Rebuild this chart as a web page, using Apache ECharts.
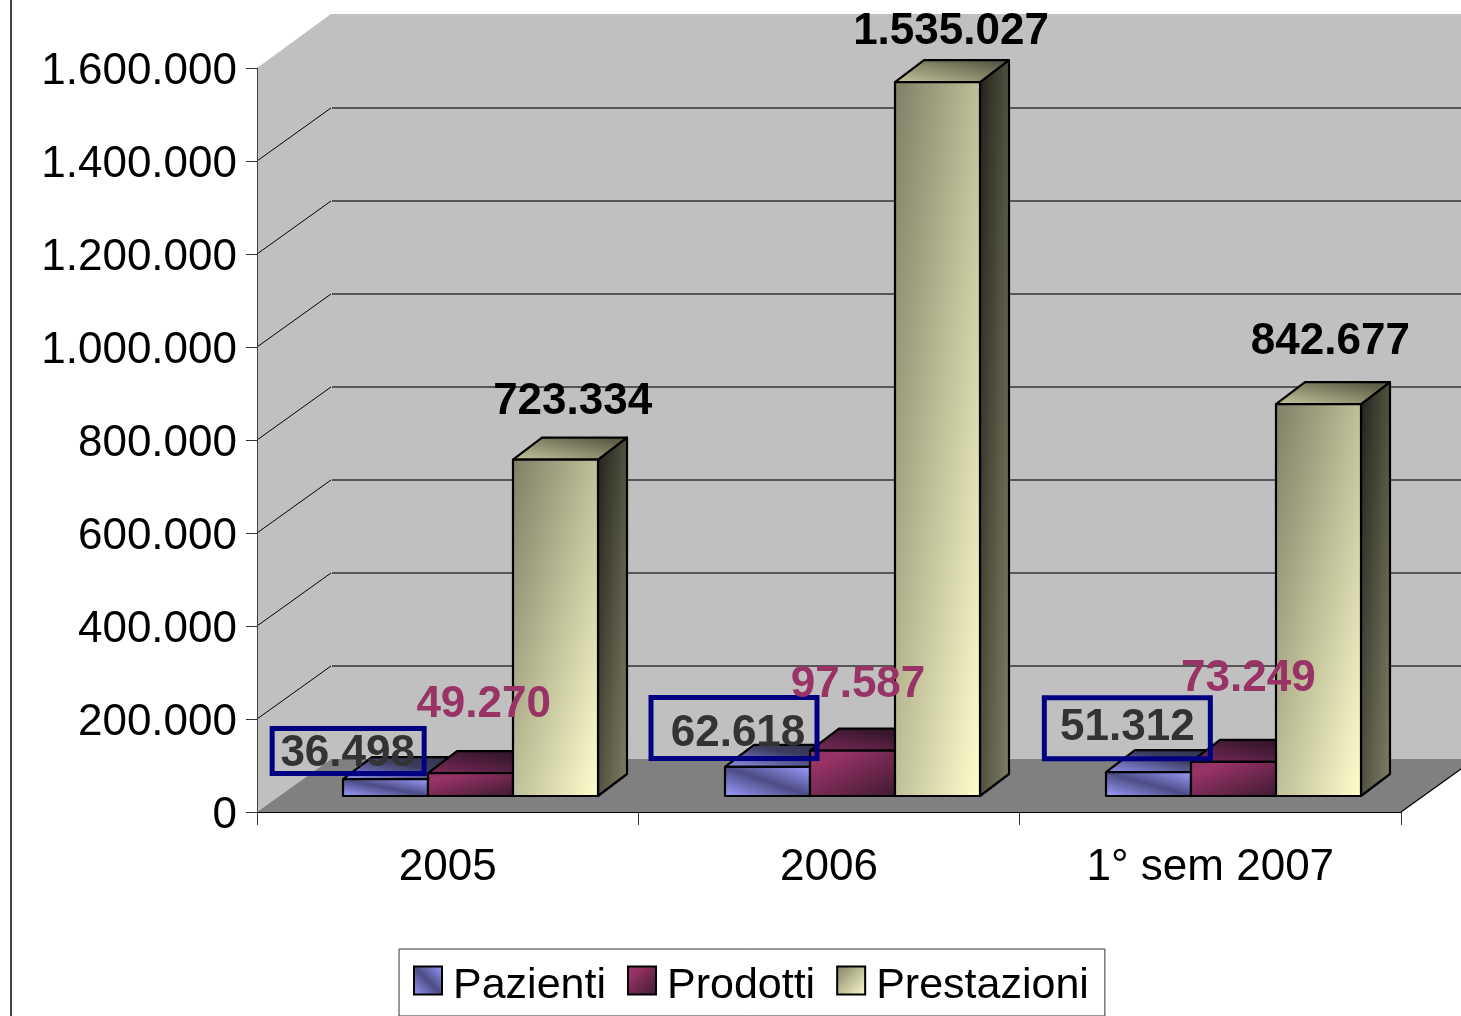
<!DOCTYPE html>
<html><head><meta charset="utf-8">
<style>html,body{margin:0;padding:0;background:#fff}#c{width:1461px;height:1016px}</style>
<script src="https://cdn.jsdelivr.net/npm/echarts@6/dist/echarts.min.js"></script>
</head><body><div id="c"></div>
<script>
var categories = ['2005', '2006', '1° sem 2007'];
var pazienti = [36498, 62618, 51312];
var prodotti = [49270, 97587, 73249];
var prestazioni = [723334, 1535027, 842677];
var yTicks = [0, 200000, 400000, 600000, 800000, 1000000, 1200000, 1400000, 1600000];

// Pseudo-3D layout (pixels)
var FONT = '"Liberation Sans", Arial, sans-serif';
var WALL_DX = 74, WALL_DY = -53, FRONT_DX = 23, FRONT_DY = -16, DEPTH_DX = 29, DEPTH_DY = -22, BAR_W = 85;

// Label offsets from each bar's front-top-centre
var blueLabelOff = [[-38, -25], [-29, -33], [-21, -44]];
var redLabelOff = [[13, -68], [6, -66], [15, -83]];
var yellowLabelOff = [[17, -58], [14, -50], [12, -62]];
var blueBoxes = [[-113.5, -50.5, 152, 45], [-116, -69.5, 166, 61], [-104, -74.5, 166, 61]];

var PALETTE = {
  blue: {
    front: [[0, '#9c9cff'], [0.5, '#4c4c85'], [1, '#9c9cff']], frontDir: 'up',
    top: [[0, '#9090f0'], [0.6, '#3c3c60'], [1, '#30304c']],
    side: [[0, '#30304c'], [1, '#70709f']]
  },
  red: {
    front: [[0, '#8f3060'], [0.2, '#993366'], [1, '#3f1a33']], frontDir: 'down',
    top: [[0, '#7c2a58'], [0.7, '#3a1830'], [1, '#2f1428']],
    side: [[0, '#2f1428'], [1, '#662244']]
  },
  yellow: {
    front: [[0, '#7f7f66'], [1, '#ffffcc']], frontDir: 'down',
    top: [[0, '#c4c49c'], [1, '#4e4e3c']],
    side: [[0, '#22221a'], [1, '#808066']]
  }
};

function stops(a) { return a.map(function (s) { return { offset: s[0], color: s[1] }; }); }
// Object-space diagonal gradient: iso-lines run along the rectangle's other diagonal
function diag(x, y, w, h, list, dir) {
  var k = 2 * w * h / (w * w + h * h);
  if (dir === 'up') {
    return { type: 'linear', global: true, x: x, y: y + h, x2: x + h * k, y2: y + h - w * k, colorStops: stops(list) };
  }
  return { type: 'linear', global: true, x: x, y: y, x2: x + h * k, y2: y + w * k, colorStops: stops(list) };
}

function barItem(slot, pal) {
  return function (params, api) {
    var p = api.coord([api.value(0), api.value(1)]);
    var z = api.coord([api.value(0), 0]);
    var l = Math.round(p[0] + FRONT_DX + (slot - 1.5) * BAR_W);
    var r = l + BAR_W, t = p[1] + FRONT_DY, b = z[1] + FRONT_DY;
    var dx = DEPTH_DX, dy = DEPTH_DY;
    var st = { stroke: '#000', lineWidth: 2.2, lineJoin: 'round' };
    function poly(points, fill) {
      return { type: 'polygon', shape: { points: points }, style: Object.assign({ fill: fill }, st) };
    }
    return {
      type: 'group',
      children: [
        poly([[r, t], [r + dx, t + dy], [r + dx, b + dy], [r, b]], diag(r, t + dy, dx, b - t - dy, pal.side)),
        poly([[l, t], [l + dx, t + dy], [r + dx, t + dy], [r, t]], diag(l, t + dy, BAR_W + dx, -dy, pal.top, 'up')),
        poly([[l, t], [r, t], [r, b], [l, b]], diag(l, t, BAR_W, b - t, pal.front, pal.frontDir))
      ]
    };
  };
}

function labelItem(slot, offs, color, boxes) {
  return function (params, api) {
    var i = params.dataIndex;
    var p = api.coord([api.value(0), api.value(1)]);
    var cx = p[0] + FRONT_DX + (slot - 1) * BAR_W;
    var cy = p[1] + FRONT_DY;
    var v = String(api.value(1)).replace(/\B(?=(\d{3})+(?!\d))/g, '.');
    var kids = [{
      type: 'text', z2: 2,
      style: { text: v, x: cx + offs[i][0], y: cy + offs[i][1], fill: color, font: 'bold 44px ' + FONT, align: 'center', verticalAlign: 'middle' }
    }];
    if (boxes) {
      var bx = boxes[i];
      kids.unshift({
        type: 'rect', z2: 1,
        shape: { x: cx + bx[0], y: cy + bx[1], width: bx[2], height: bx[3] },
        style: { fill: 'transparent', stroke: '#000080', lineWidth: 5 }
      });
    }
    return { type: 'group', children: kids };
  };
}

function wallItem(params, api) {
  var v = api.value(0);
  var g = api.coord([0, v]);
  var yy = g[1];
  var size = api.size([1, 0])[0];
  var x0 = g[0] - size / 2, x1 = x0 + size * categories.length;
  var bx = x0 + WALL_DX, by = yy + WALL_DY;
  var kids = [];
  if (params.dataIndex === 0) {
    var top = api.coord([0, yTicks[yTicks.length - 1]])[1];
    kids.push({ type: 'polygon', z2: 0, shape: { points: [[x0, top], [x0 + WALL_DX, top + WALL_DY - 1], [x1 + WALL_DX, top + WALL_DY - 1], [x1 + WALL_DX, by], [x0 + WALL_DX, by], [x0, yy]] }, style: { fill: '#c0c0c0' } });
    kids.push({ type: 'polygon', z2: 1, shape: { points: [[x0, yy], [x0 + WALL_DX, by], [x1 + WALL_DX, by], [x1, yy]] }, style: { fill: '#808080' } });
    kids.push({ type: 'line', z2: 2, shape: { x1: x1, y1: yy, x2: x1 + WALL_DX, y2: by }, style: { stroke: '#000', lineWidth: 1.2 } });
  } else if (v < yTicks[yTicks.length - 1]) {
    kids.push({ type: 'line', z2: 2, shape: { x1: x0, y1: yy, x2: bx, y2: by }, style: { stroke: '#000', lineWidth: 1 } });
    kids.push({ type: 'line', z2: 2, shape: { x1: bx + 1, y1: by, x2: x1 + WALL_DX, y2: by }, style: { stroke: '#333', lineWidth: 1.5 } });
  }
  return { type: 'group', children: kids };
}

function row(vals) { return vals.map(function (v, i) { return [i, v]; }); }
function keyFill(pal, dir) {
  return dir === 'up'
    ? { type: 'linear', x: 0, y: 1, x2: 1, y2: 0, colorStops: stops(pal.front) }
    : { type: 'linear', x: 0, y: 0, x2: 1, y2: 1, colorStops: stops(pal.front) };
}
function enc() { return { x: 0, y: 1 }; }

var chart = echarts.init(document.getElementById('c'), null, { renderer: 'canvas' });
chart.setOption({
  animation: false,
  backgroundColor: '#fff',
  textStyle: { fontFamily: FONT },
  grid: { left: 257, width: 1144, top: 68, height: 744, containLabel: false },
  legend: {
    left: 399, top: 949, orient: 'horizontal',
    padding: [16, 16, 8, 14],
    backgroundColor: '#fff', borderColor: '#333', borderWidth: 1, borderRadius: 0,
    itemWidth: 28, itemHeight: 28, itemGap: 21, icon: 'rect', selectedMode: false,
    formatter: '{t|{name}}',
    textStyle: {
      rich: { t: { fontSize: 43, fontFamily: FONT, color: '#000', padding: [12, 0, 0, 6] } }
    },
    data: [
      { name: 'Pazienti', icon: 'rect', itemStyle: { color: keyFill(PALETTE.blue, 'up'), borderColor: '#000', borderWidth: 2 } },
      { name: 'Prodotti', icon: 'rect', itemStyle: { color: keyFill(PALETTE.red, 'down'), borderColor: '#000', borderWidth: 2 } },
      { name: 'Prestazioni', icon: 'rect', itemStyle: { color: keyFill(PALETTE.yellow, 'down'), borderColor: '#000', borderWidth: 2 } }
    ]
  },
  xAxis: {
    type: 'category', data: categories, boundaryGap: true,
    axisLine: { show: false },
    axisTick: { show: true, length: 13, alignWithLabel: false, lineStyle: { color: '#333', width: 1 } },
    axisLabel: { fontSize: 44, color: '#000', margin: 34, interval: 0, fontFamily: FONT },
    z: 6
  },
  yAxis: {
    type: 'value', min: 0, max: 1600000, interval: 200000,
    axisLine: { show: true, lineStyle: { color: '#444', width: 1 } },
    axisTick: { show: true, length: 11, lineStyle: { color: '#333', width: 1 } },
    splitLine: { show: false },
    axisLabel: {
      fontSize: 44, color: '#000', margin: 20, fontFamily: FONT, verticalAlign: 'top', lineHeight: 8,
      formatter: function (v) { return String(v).replace(/\B(?=(\d{3})+(?!\d))/g, '.'); }
    },
    z: 6
  },
  graphic: [{
    type: 'line', silent: true, z: 20,
    shape: { x1: 11, y1: 0, x2: 11, y2: 1016 }, style: { stroke: '#444', lineWidth: 2 }
  }, {
    type: 'line', silent: true, z: 20,
    shape: { x1: 257, y1: 812.5, x2: 1401, y2: 812.5 }, style: { stroke: '#000', lineWidth: 1.2 }
  }],
  series: [
    { type: 'custom', name: 'Pareti', coordinateSystem: 'cartesian2d', z: 1, silent: true, renderItem: wallItem, encode: { y: 0 }, data: yTicks.map(function (v) { return [v]; }), clip: false },
    { type: 'custom', name: 'Pazienti', z: 2, renderItem: barItem(0, PALETTE.blue), encode: enc(), data: row(pazienti), clip: false },
    { type: 'custom', name: 'Prodotti', z: 3, renderItem: barItem(1, PALETTE.red), encode: enc(), data: row(prodotti), clip: false },
    { type: 'custom', name: 'Prestazioni', z: 4, renderItem: barItem(2, PALETTE.yellow), encode: enc(), data: row(prestazioni), clip: false },
    { type: 'custom', name: 'Etichette Pazienti', z: 8, silent: true, renderItem: labelItem(0, blueLabelOff, '#333333', blueBoxes), encode: enc(), data: row(pazienti), clip: false },
    { type: 'custom', name: 'Etichette Prodotti', z: 8, silent: true, renderItem: labelItem(1, redLabelOff, '#993366'), encode: enc(), data: row(prodotti), clip: false },
    { type: 'custom', name: 'Etichette Prestazioni', z: 8, silent: true, renderItem: labelItem(2, yellowLabelOff, '#000000'), encode: enc(), data: row(prestazioni), clip: false }
  ]
});
</script></body></html>
